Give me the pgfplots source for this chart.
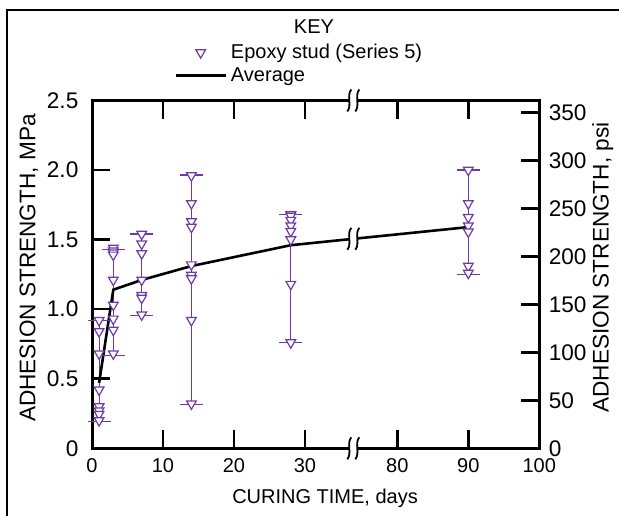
\documentclass[border=0pt]{standalone}
\usepackage{pgfplots}
\pgfplotsset{compat=1.18}
\usepackage{fontspec}
\setmainfont{Liberation Sans}
\definecolor{pur}{RGB}{112,58,166}
\newcommand{\yfont}{\fontsize{11.3}{13.5}\selectfont}
\pgfplotsset{
  lineleg/.style={legend image code/.code={\draw[##1] plot coordinates {(0pt,0pt) (25pt,0pt)};}},
  markleg/.style={legend image code/.code={\draw[##1] plot coordinates {(12.5pt,0pt)};}},
}
\begin{document}
\begin{tikzpicture}[x=1pt,y=1pt]
\draw[line width=1pt] (3.5,-330) -- (3.5,-5) -- (340,-5);
\begin{axis}[
  at={(46pt,-224.15pt)}, anchor=south west,
  scale only axis, width=223.65pt, height=173.9pt,
  xmin=0, xmax=63, ymin=0, ymax=2.5,
  clip=false,
  xtick={0,10,20,30,43,53,63}, xticklabels={0,10,20,30,80,90,100},
  ytick={0,0.5,1,1.5,2,2.5}, yticklabels={0,0.5,1.0,1.5,2.0,2.5},
  tick align=inside, xtick pos=both, ytick pos=left,
  major tick length=9pt,
  tick style={black, line width=1.3pt},
  axis line style={line width=1.5pt},
  yticklabel style={xshift=-3.3pt, font=\yfont},
  xticklabel style={yshift=-1.7pt},
  xlabel={CURING TIME, days},
  ylabel={ADHESION STRENGTH, MPa},
  xlabel style={at={(axis description cs:0.521,-0.143)}, anchor=center},
  ylabel style={at={(axis description cs:-0.141,0.518)}, anchor=center, font=\yfont},
  legend style={at={(axis description cs:0.1833,1.1728)}, anchor=north west,
    draw=none, fill=none, inner sep=0pt,
    nodes={inner xsep=2pt, inner ysep=1.5pt}},
  legend cell align=left,
]
% error bars (range of each group)
\addplot[pur, line width=0.6pt, mark=-, mark size=5.8pt, forget plot] coordinates {(1,0.195) (1,0.92)};
\addplot[pur, line width=0.6pt, mark=-, mark size=5.8pt, forget plot] coordinates {(3,0.67) (3,1.43)};
\addplot[pur, line width=0.6pt, mark=-, mark size=5.8pt, forget plot] coordinates {(7,0.957) (7,1.54)};
\addplot[pur, line width=0.6pt, mark=-, mark size=5.8pt, forget plot] coordinates {(14,0.314) (14,1.964)};
\addplot[pur, line width=0.6pt, mark=-, mark size=5.8pt, forget plot] coordinates {(28,0.76) (28,1.68)};
\addplot[pur, line width=0.6pt, mark=-, mark size=5.8pt, forget plot] coordinates {(53,1.252) (53,2.0)};
% individual results
\addplot[only marks, mark=triangle*, mark size=2.8pt,
  mark options={rotate=180, fill=white, draw=pur, line width=0.6pt}, markleg]
coordinates {
(1,0.92) (1,0.84) (1,0.68) (1,0.42) (1,0.30) (1,0.27) (1,0.245) (1,0.20)
(3,1.44) (3,1.42) (3,1.405) (3,1.39) (3,1.21) (3,1.03) (3,0.93) (3,0.85) (3,0.68)
(7,1.54) (7,1.47) (7,1.40) (7,1.21) (7,1.10) (7,1.08) (7,0.96)
(14,1.96) (14,1.76) (14,1.63) (14,1.59) (14,1.32) (14,1.245) (14,1.22) (14,0.92) (14,0.32)
(28,1.68) (28,1.67) (28,1.64) (28,1.60) (28,1.56) (28,1.50) (28,1.18) (28,0.76)
(53,2.0) (53,1.76) (53,1.66) (53,1.60) (53,1.556) (53,1.31) (53,1.26)
};
\addlegendentry{Epoxy stud (Series 5)}
% average
\addplot[black, line width=1.3pt, mark=none, lineleg] coordinates {
(1,0.47) (3,1.14) (7,1.21) (14,1.31) (28,1.46) (53,1.59)
};
\addlegendentry{Average}
\coordinate (BB) at (axis cs:36.8,0);
\coordinate (BT) at (axis cs:36.8,2.5);
\coordinate (BL) at (axis cs:36.8,1.506);
\end{axis}
\begin{axis}[
  at={(46pt,-224.15pt)}, anchor=south west,
  scale only axis, width=223.65pt, height=173.9pt,
  xmin=0, xmax=63, ymin=0, ymax=362.594,
  axis x line=none, axis y line*=right,
  ytick={0,50,100,150,200,250,300,350},
  /pgf/number format/assume math mode=true,
  tick align=inside, major tick length=9pt,
  tick style={black, line width=1.3pt},
  axis line style={line width=1.5pt},
  yticklabel style={xshift=1.2pt, font=\yfont},
  ylabel={ADHESION STRENGTH, psi},
  ylabel style={at={(axis description cs:1.142,0.52)}, anchor=center, font=\yfont},
]
\end{axis}
\node at (157pt,-13.5pt) {KEY};
\foreach \p in {BB,BT,BL} {
  \fill[white] ([xshift=-2pt,yshift=-1.5pt]\p) rectangle ([xshift=2pt,yshift=1.5pt]\p);
  \draw[line width=0.9pt] ([xshift=-1pt,yshift=5.5pt]\p) .. controls +(-2.5pt,-3pt) and +(2.5pt,3pt) .. ([xshift=-3pt,yshift=-5.5pt]\p);
  \draw[line width=0.9pt] ([xshift=3pt,yshift=5.5pt]\p) .. controls +(-2.5pt,-3pt) and +(2.5pt,3pt) .. ([xshift=1pt,yshift=-5.5pt]\p);
}
\pgfresetboundingbox
\path[use as bounding box] (0,0) rectangle (309.5pt,-257.5pt);
\end{tikzpicture}
\end{document}
